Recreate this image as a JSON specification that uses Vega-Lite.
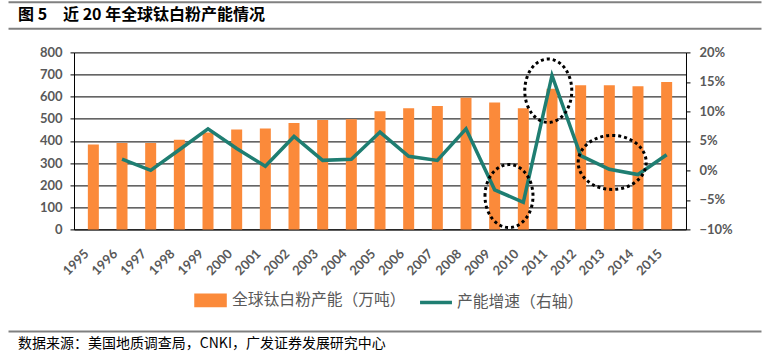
{
  "$schema": "https://vega.github.io/schema/vega-lite/v6.json",
  "background": "white",
  "padding": {"left": 7, "top": 1.7, "right": 0, "bottom": 0},
  "spacing": 17.7,
  "columns": 1,
  "align": "none",
  "resolve": {"scale": {"color": "independent"}, "legend": {"color": "independent"}},
  "config": {
    "view": {"stroke": null},
    "axis": {"labelFont": "Lato", "labelFontWeight": "bold", "labelFontSize": 13, "labelColor": "#595959"}
  },
  "concat": [
    {
      "width": 612,
      "height": 26.5,
      "data": {"values": [{"title": "图 5\u3000近 20 年全球钛白粉产能情况"}]},
      "layer": [
        {
          "mark": {"type": "text", "align": "left", "baseline": "middle", "dx": 10, "font": "Noto Sans CJK SC", "fontWeight": "bold", "fontSize": 16, "color": "#000000"},
          "encoding": {
            "text": {"field": "title"},
            "x": {"datum": 0, "type": "quantitative", "scale": {"domain": [0, 1], "range": [-66, 687]},
                  "axis": {"orient": "bottom", "domainColor": "#808080", "domainWidth": 2, "ticks": false, "labels": false, "grid": false, "title": null}},
            "y": {"datum": 0.5, "type": "quantitative", "scale": {"domain": [0, 1]}, "axis": null}
          }
        },
        {
          "mark": {"type": "text", "align": "left"},
          "encoding": {
            "text": {"value": ""},
            "x": {"datum": 0, "type": "quantitative", "scale": {"domain": [0, 1], "range": [-66, 687]},
                  "axis": {"orient": "top", "domainColor": "#808080", "domainWidth": 2, "ticks": false, "labels": false, "grid": false, "title": null}},
            "y": {"datum": 0.5, "type": "quantitative", "scale": {"domain": [0, 1]}, "axis": null}
          }
        }
      ],
      "resolve": {"scale": {"x": "independent"}, "axis": {"x": "independent"}}
    },
    {
      "width": 612,
      "height": 177,
      "data": {"values": [
        {"year": 1995, "capacity": 384, "growth": null},
        {"year": 1996, "capacity": 390, "growth": 0.019},
        {"year": 1997, "capacity": 390, "growth": 0.0},
        {"year": 1998, "capacity": 405, "growth": 0.035},
        {"year": 1999, "capacity": 438, "growth": 0.0705},
        {"year": 2000, "capacity": 451, "growth": 0.037},
        {"year": 2001, "capacity": 456, "growth": 0.007},
        {"year": 2002, "capacity": 481, "growth": 0.0575},
        {"year": 2003, "capacity": 494, "growth": 0.017},
        {"year": 2004, "capacity": 498, "growth": 0.019},
        {"year": 2005, "capacity": 534, "growth": 0.065},
        {"year": 2006, "capacity": 548, "growth": 0.024},
        {"year": 2007, "capacity": 558, "growth": 0.017},
        {"year": 2008, "capacity": 595, "growth": 0.0705},
        {"year": 2009, "capacity": 573, "growth": -0.033},
        {"year": 2010, "capacity": 548, "growth": -0.054},
        {"year": 2011, "capacity": 636, "growth": 0.161},
        {"year": 2012, "capacity": 652, "growth": 0.025},
        {"year": 2013, "capacity": 652, "growth": 0.002},
        {"year": 2014, "capacity": 647, "growth": -0.007},
        {"year": 2015, "capacity": 666, "growth": 0.0265}
      ]},
      "encoding": {
        "x": {"field": "year", "type": "quantitative",
              "scale": {"domain": [1994.5, 2015.5], "nice": false, "zero": false},
              "axis": {"values": [1995,1996,1997,1998,1999,2000,2001,2002,2003,2004,2005,2006,2007,2008,2009,2010,2011,2012,2013,2014,2015],
                       "format": "d", "labelAngle": -45, "labelAlign": "right", "labelBaseline": "middle", "labelPadding": 22, "labelOffset": -7,
                       "ticks": false, "grid": false, "domainColor": "#000000", "title": null, "labelOverlap": false}}
      },
      "layer": [
        {
          "mark": {"type": "bar", "size": 11},
          "encoding": {
            "y": {"field": "capacity", "type": "quantitative", "scale": {"domain": [0, 800], "nice": false},
                  "axis": {"orient": "left", "values": [0,100,200,300,400,500,600,700,800], "grid": true, "gridColor": "#000000", "gridWidth": 1,
                           "domainColor": "#000000", "tickColor": "#000000", "tickSize": 4, "labelPadding": 8, "title": null, "minExtent": 67}},
            "color": {"datum": "全球钛白粉产能（万吨）",
                      "scale": {"domain": ["全球钛白粉产能（万吨）", "产能增速（右轴）"], "range": ["#FB8A3A", "#1F7E72"]},
                      "legend": {"orient": "none", "legendX": 126, "legendY": 233.5, "direction": "horizontal", "title": null,
                                 "labelFont": "Noto Sans CJK SC", "labelFontSize": 15.8, "labelColor": "#595959", "labelLimit": 400,
                                 "symbolSize": 576, "labelOffset": 4, "columnPadding": 7, "padding": 0,
                                 "encode": {"symbols": {"update": {
                                   "shape": {"signal": "datum.value === '产能增速（右轴）' ? 'M-1.58,0H1.08' : 'M-1.5,-0.42H0.92V0.42H-1.5Z'"},
                                   "fill": {"signal": "datum.value === '产能增速（右轴）' ? 'transparent' : '#FB8A3A'"},
                                   "stroke": {"signal": "datum.value === '产能增速（右轴）' ? '#1F7E72' : 'transparent'"},
                                   "strokeWidth": {"value": 3.5},
                                   "opacity": {"value": 1},
                                   "fillOpacity": {"value": 1},
                                   "strokeOpacity": {"value": 1}
                                 }}}}}
          }
        },
        {
          "encoding": {
            "y": {"field": "growth", "type": "quantitative", "scale": {"domain": [-0.1, 0.2], "nice": false, "zero": false},
                  "axis": {"orient": "right", "values": [-0.1,-0.05,0,0.05,0.1,0.15,0.2], "format": ".0%", "grid": false,
                           "domainColor": "#000000", "tickColor": "#000000", "tickSize": 4, "labelPadding": 9, "title": null}}
          },
          "layer": [
            {
              "mark": {"type": "line", "strokeWidth": 3.5},
              "encoding": {"color": {"datum": "产能增速（右轴）"}}
            },
            {
              "data": {"values": [{"year": 2009.5, "growth": -0.0435}]},
              "mark": {"type": "point", "shape": "M-24,0A24,31.5 0 1,1 24,0A24,31.5 0 1,1 -24,0Z", "size": 4, "filled": false,
                       "color": "#000000", "strokeWidth": 3, "strokeDash": [3, 3], "opacity": 1}
            },
            {
              "data": {"values": [{"year": 2010.87, "growth": 0.135}]},
              "mark": {"type": "point", "shape": "M-23.5,0A23.5,31.7 0 1,1 23.5,0A23.5,31.7 0 1,1 -23.5,0Z", "size": 4, "filled": false,
                       "color": "#000000", "strokeWidth": 3, "strokeDash": [3, 3], "opacity": 1}
            },
            {
              "data": {"values": [{"year": 2013.1, "growth": 0.0135}]},
              "mark": {"type": "point", "shape": "M-34,0A34,27 0 1,1 34,0A34,27 0 1,1 -34,0Z", "size": 4, "filled": false,
                       "color": "#000000", "strokeWidth": 3, "strokeDash": [3, 3], "opacity": 1}
            }
          ]
        }
      ],
      "resolve": {"scale": {"y": "independent"}}
    },
    {
      "width": 612,
      "height": 25.4,
      "data": {"values": [{"source": "数据来源：美国地质调查局，CNKI，广发证券发展研究中心"}]},
      "mark": {"type": "text", "align": "left", "baseline": "middle", "dx": 10, "font": "Noto Sans CJK SC", "fontSize": 14, "color": "#000000"},
      "encoding": {
        "text": {"field": "source"},
        "x": {"datum": 0, "type": "quantitative", "scale": {"domain": [0, 1], "range": [-66, 687]},
              "axis": {"orient": "top", "domainColor": "#808080", "domainWidth": 2, "ticks": false, "labels": false, "grid": false, "title": null}},
        "y": {"datum": 0.5, "type": "quantitative", "scale": {"domain": [0, 1]}, "axis": null}
      }
    }
  ]
}
